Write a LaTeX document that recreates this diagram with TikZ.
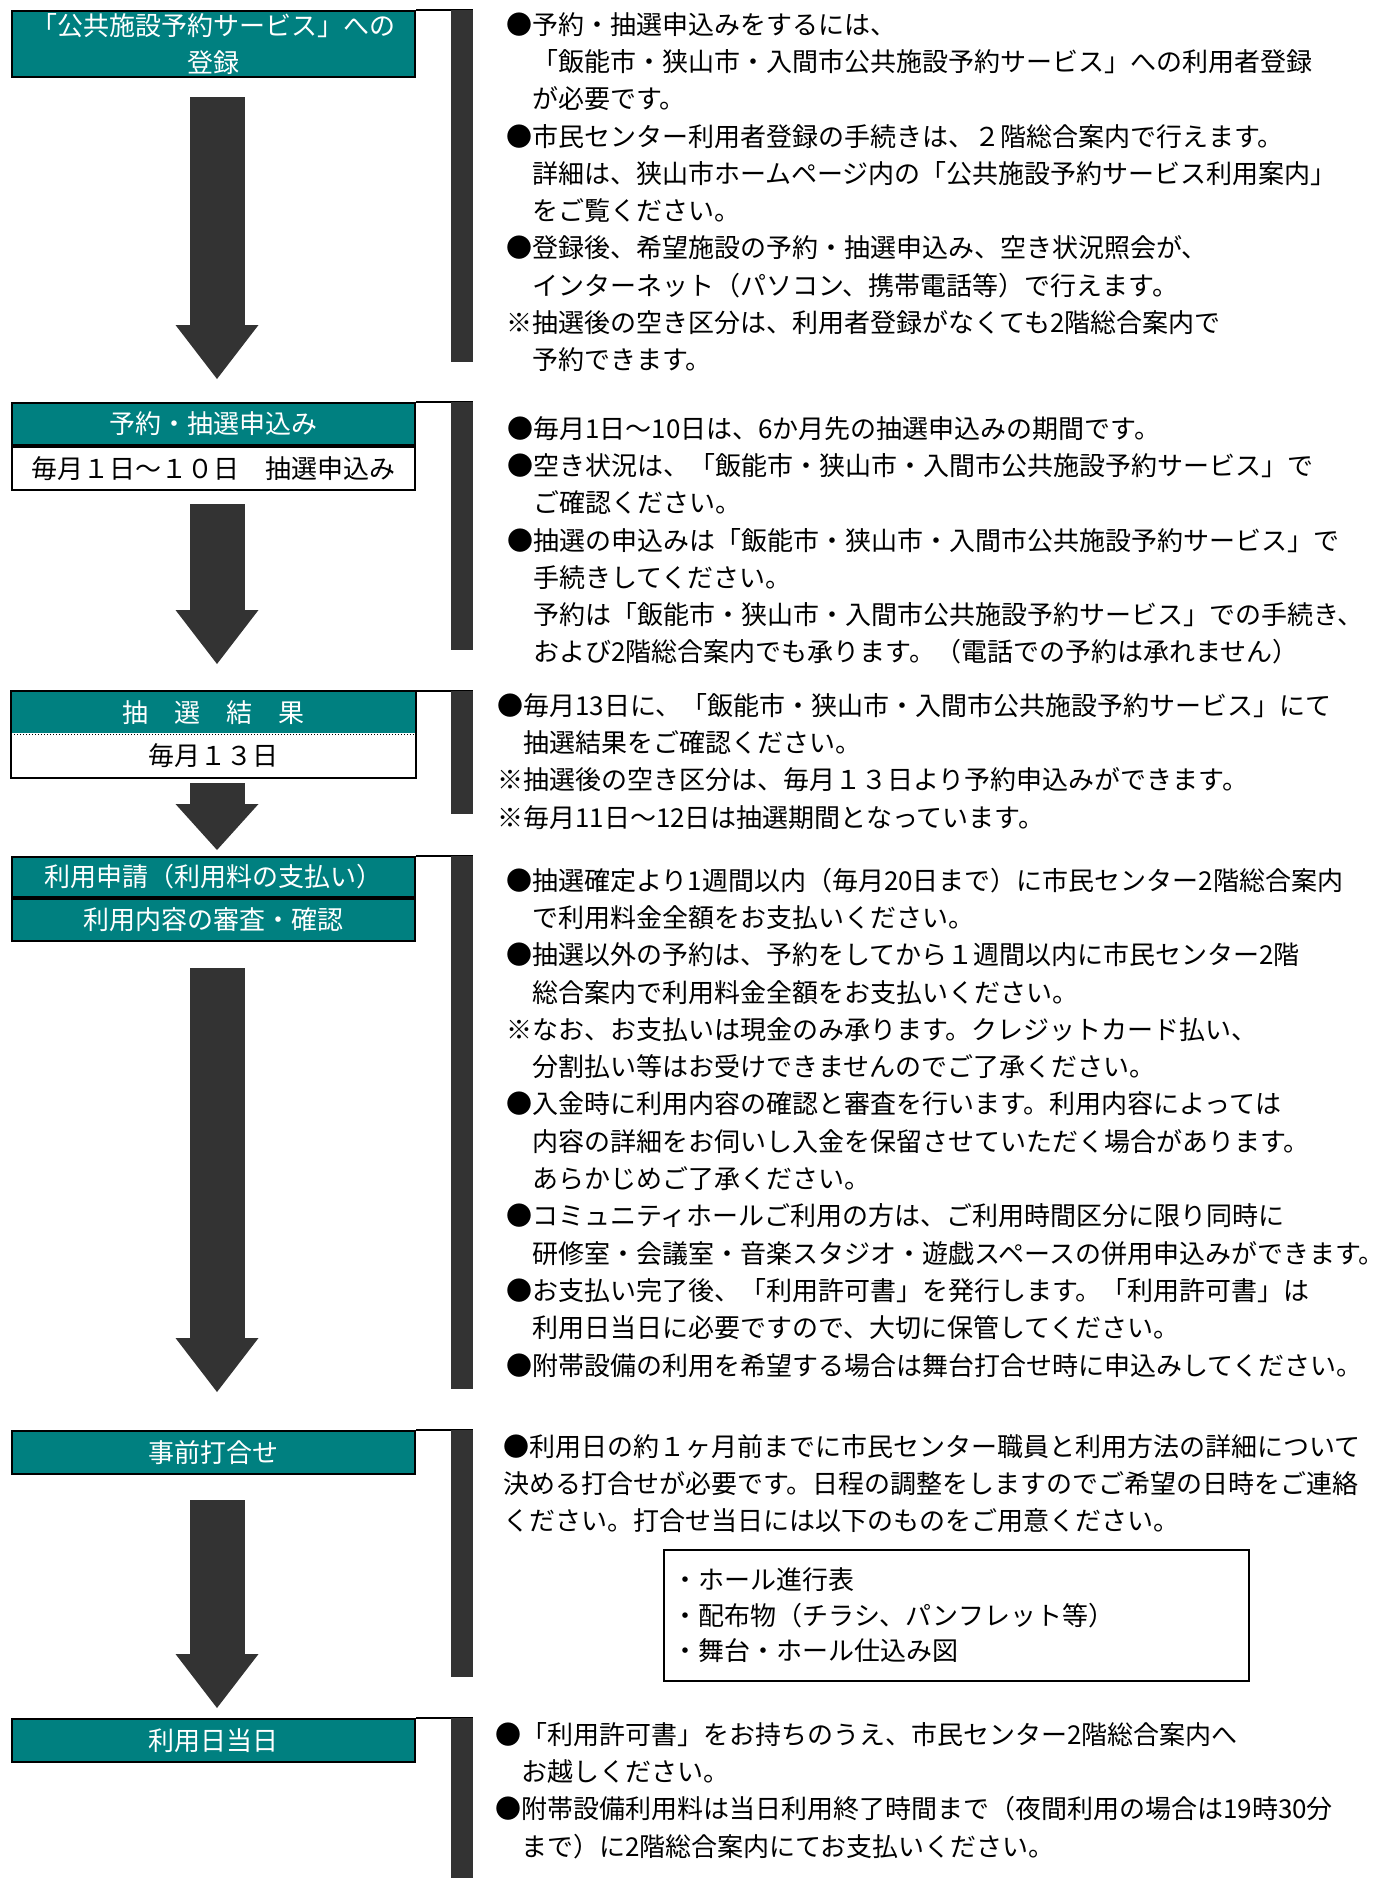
\documentclass[tikz,border=0pt]{standalone}
\usepackage{fontspec}
\newfontfamily\jpfont{Noto Sans CJK JP}
\usepackage{tikz}
\usetikzlibrary{positioning, arrows.meta}
\definecolor{boxteal}{RGB}{0,128,128}
\definecolor{bargray}{RGB}{51,51,51}

\begin{document}
\begin{tikzpicture}[x=1pt, y=-1pt,
        every node/.style={font=\jpfont\fontsize{26}{37.3}\selectfont, inner sep=0pt},
        headbox/.style={rectangle, draw=black, line width=2pt, fill=boxteal, text=white, minimum width=403pt, minimum height=43pt, align=center},
        subbox/.style={headbox, fill=white, text=black},
        note/.style={anchor=north west, align=left},
        flow/.style={draw=bargray, line width=55pt, -{Triangle[length=54pt, width=83pt, line width=0pt]}}]
        \useasboundingbox (0,0) rectangle (1394,1879);

        \node[headbox, minimum height=66pt] (regbox) at (213.5,44) {「公共施設予約サービス」への\\登録};
        \node[headbox, minimum height=42pt] (applybox) at (213.5,424) {予約・抽選申込み};
        \node[subbox, below=0pt of applybox] (applydate) {毎月１日～１０日　抽選申込み};
        \node[headbox, draw=none, minimum height=41pt] (lotbox) at (213.5,712.5) {抽　選　結　果};
        \node[subbox, draw=none, minimum height=42pt, below=0pt of lotbox] (lotdate) {毎月１３日};
        \draw[line width=2pt] (lotbox.north west) rectangle (lotdate.south east);
        \draw[dotted, line width=1pt] (lotbox.south west) -- (lotbox.south east);
        \node[headbox, minimum height=40pt] (paybox) at (213.5,877) {利用申請（利用料の支払い）};
        \node[headbox, minimum height=42pt, below=0pt of paybox] (checkbox) {利用内容の審査・確認};
        \node[headbox] (meetbox) at (213.5,1452.5) {事前打合せ};
        \node[headbox] (daybox) at (213.5,1740.5) {利用日当日};

        \foreach \blk/\len in {regbox/352, applybox/248, lotbox/123, paybox/533, meetbox/247, daybox/160} {
            \draw[line width=2pt] (\blk.north east) -- ++(57,0);
            \fill[bargray] ([xshift=35pt]\blk.north east) rectangle ++(22,\len);
        }

        \draw[flow] ([shift={(3.5,19)}]regbox.south) -- ([shift={(3.5,-23)}]applybox.north);
        \draw[flow] ([shift={(3.5,13)}]applydate.south) -- ([shift={(3.5,-27)}]lotbox.north);
        \draw[flow, -{Triangle[length=46pt, width=83pt, line width=0pt]}] ([shift={(3.5,5)}]lotdate.south) -- ([shift={(3.5,-6)}]paybox.north);
        \draw[flow] ([shift={(3.5,26)}]checkbox.south) -- ([shift={(3.5,-38)}]meetbox.north);
        \draw[flow] ([shift={(3.5,25)}]meetbox.south) -- ([shift={(3.5,-10)}]daybox.north);

        \node[note] (regnote) at (506,7.8) {\strut●予約・抽選申込みをするには、\\
            　「飯能市・狭山市・入間市公共施設予約サービス」への利用者登録\\
            　が必要です。\\
            ●市民センター利用者登録の手続きは、２階総合案内で行えます。\\
            　詳細は、狭山市ホームページ内の「公共施設予約サービス利用案内」\\
            　をご覧ください。\\
            ●登録後、希望施設の予約・抽選申込み、空き状況照会が、\\
            　インターネット（パソコン、携帯電話等）で行えます。\\
            ※抽選後の空き区分は、利用者登録がなくても2階総合案内で\\
            　予約できます。};
        \node[note] (applynote) at (507,411.8) {\strut●毎月1日～10日は、6か月先の抽選申込みの期間です。\\
            ●空き状況は、「飯能市・狭山市・入間市公共施設予約サービス」で\\
            　ご確認ください。\\
            ●抽選の申込みは「飯能市・狭山市・入間市公共施設予約サービス」で\\
            　手続きしてください。\\
            　予約は「飯能市・狭山市・入間市公共施設予約サービス」での手続き、\\
            　および2階総合案内でも承ります。（電話での予約は承れません）};
        \node[note] (lotnote) at (497,688.8) {\strut●毎月13日に、「飯能市・狭山市・入間市公共施設予約サービス」にて\\
            　抽選結果をご確認ください。\\
            ※抽選後の空き区分は、毎月１３日より予約申込みができます。\\
            ※毎月11日～12日は抽選期間となっています。};
        \node[note] (paynote) at (506,863.8) {\strut●抽選確定より1週間以内（毎月20日まで）に市民センター2階総合案内\\
            　で利用料金全額をお支払いください。\\
            ●抽選以外の予約は、予約をしてから１週間以内に市民センター2階\\
            　総合案内で利用料金全額をお支払いください。\\
            ※なお、お支払いは現金のみ承ります。クレジットカード払い、\\
            　分割払い等はお受けできませんのでご了承ください。\\
            ●入金時に利用内容の確認と審査を行います。利用内容によっては\\
            　内容の詳細をお伺いし入金を保留させていただく場合があります。\\
            　あらかじめご了承ください。\\
            ●コミュニティホールご利用の方は、ご利用時間区分に限り同時に\\
            　研修室・会議室・音楽スタジオ・遊戯スペースの併用申込みができます。\\
            ●お支払い完了後、「利用許可書」を発行します。「利用許可書」は\\
            　利用日当日に必要ですので、大切に保管してください。\\
            ●附帯設備の利用を希望する場合は舞台打合せ時に申込みしてください。};
        \node[note] (meetnote) at (503,1429.8) {\strut●利用日の約１ヶ月前までに市民センター職員と利用方法の詳細について\\
            決める打合せが必要です。日程の調整をしますのでご希望の日時をご連絡\\
            ください。打合せ当日には以下のものをご用意ください。};
        \node[draw, line width=1.5pt, anchor=north west, minimum width=585pt, minimum height=131pt, text width=567pt, inner xsep=9pt, align=left, font=\jpfont\fontsize{26}{35.5}\selectfont] (needs) at (663,1549) {・ホール進行表\\
            ・配布物（チラシ、パンフレット等）\\
            ・舞台・ホール仕込み図};
        \node[note] (daynote) at (495,1717.8) {\strut●「利用許可書」をお持ちのうえ、市民センター2階総合案内へ\\
            　お越しください。\\
            ●附帯設備利用料は当日利用終了時間まで（夜間利用の場合は19時30分\\
            　まで）に2階総合案内にてお支払いください。};
    \end{tikzpicture}
\end{document}
